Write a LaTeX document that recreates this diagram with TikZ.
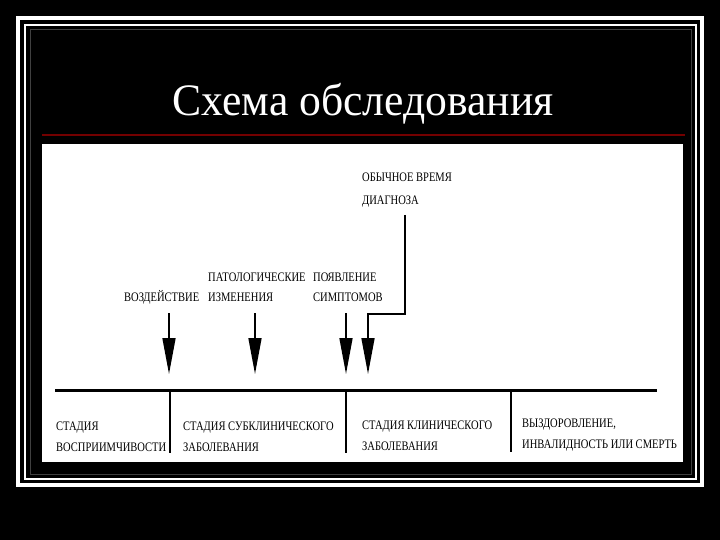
\documentclass[tikz,border=0pt]{standalone}
\usepackage{fontspec}
\setmainfont{Liberation Serif}
\newfontfamily\condserif[FakeStretch=0.81]{Liberation Serif}
\newfontfamily\titleserif[FakeStretch=0.97]{Liberation Serif}
\usetikzlibrary{arrows.meta}
\begin{document}
\begin{tikzpicture}[x=1pt,y=-1pt,
  lbl/.style={anchor=base west, inner sep=0pt, font=\condserif\fontsize{13}{15}\selectfont},
  arr/.style={line width=1.6pt, -{Triangle[length=36pt,width=13pt]}},
  divider/.style={line width=1.5pt},
]
\fill[black] (0,0) rectangle (720,540);
\useasboundingbox (0,0) rectangle (720,540);
% frame
\draw[white, line width=4pt] (18,18) rectangle (702,485);
\draw[white, line width=1.5pt] (25,25) rectangle (696,479);
\draw[black!75!white, line width=0.6pt] (30,29) rectangle (691,474);
% title
\node[text=white, anchor=base, inner sep=0pt, font=\titleserif\fontsize{45}{50}\selectfont] (title) at (363,116) {Схема обследования};
\draw[red!45!black, line width=1.5pt] (42,135) -- (685,135);
% panel
\fill[white] (42,144) rectangle (683,462);
% labels
\node[lbl] (diag1) at (362,182) {ОБЫЧНОЕ ВРЕМЯ};
\node[lbl] (diag2) at (362,205) {ДИАГНОЗА};
\node[lbl] (v) at (124,301) {ВОЗДЕЙСТВИЕ};
\node[lbl] (p1) at (208,281) {ПАТОЛОГИЧЕСКИЕ};
\node[lbl] (p2) at (208,301) {ИЗМЕНЕНИЯ};
\node[lbl] (s1) at (313,281) {ПОЯВЛЕНИЕ};
\node[lbl] (s2) at (313,301) {СИМПТОМОВ};
\node[lbl] (b1) at (56,430) {СТАДИЯ};
\node[lbl] (b2) at (56,451) {ВОСПРИИМЧИВОСТИ};
\node[lbl] (c1) at (183,430) {СТАДИЯ СУБКЛИНИЧЕСКОГО};
\node[lbl] (c2) at (183,451) {ЗАБОЛЕВАНИЯ};
\node[lbl] (d1) at (362,429) {СТАДИЯ КЛИНИЧЕСКОГО};
\node[lbl] (d2) at (362,450) {ЗАБОЛЕВАНИЯ};
\node[lbl] (e1) at (522,427) {ВЫЗДОРОВЛЕНИЕ,};
\node[lbl] (e2) at (522,448) {ИНВАЛИДНОСТЬ ИЛИ СМЕРТЬ};
% timeline
\coordinate (t0) at (55,390);
\coordinate (t1) at (657,390);
\draw[line width=3pt] (t0) -- (t1);
\coordinate (k1) at (170,390);
\coordinate (k2) at (346,390);
\coordinate (k3) at (511,390);
\draw[divider] (k1) -- (170,453);
\draw[divider] (k2) -- (346,453);
\draw[divider] (k3) -- (511,452);
% arrows
\coordinate (a1) at (169,313); \coordinate (h1) at (169,374);
\coordinate (a2) at (255,313); \coordinate (h2) at (255,374);
\coordinate (a3) at (346,313); \coordinate (h3) at (346,374);
\coordinate (a4) at (405,215); \coordinate (h4) at (368,374);
\draw[arr] (a1) -- (h1);
\draw[arr] (a2) -- (h2);
\draw[arr] (a3) -- (h3);
\draw[arr] (a4) |- (368,314) -- (h4);
\end{tikzpicture}
\end{document}
